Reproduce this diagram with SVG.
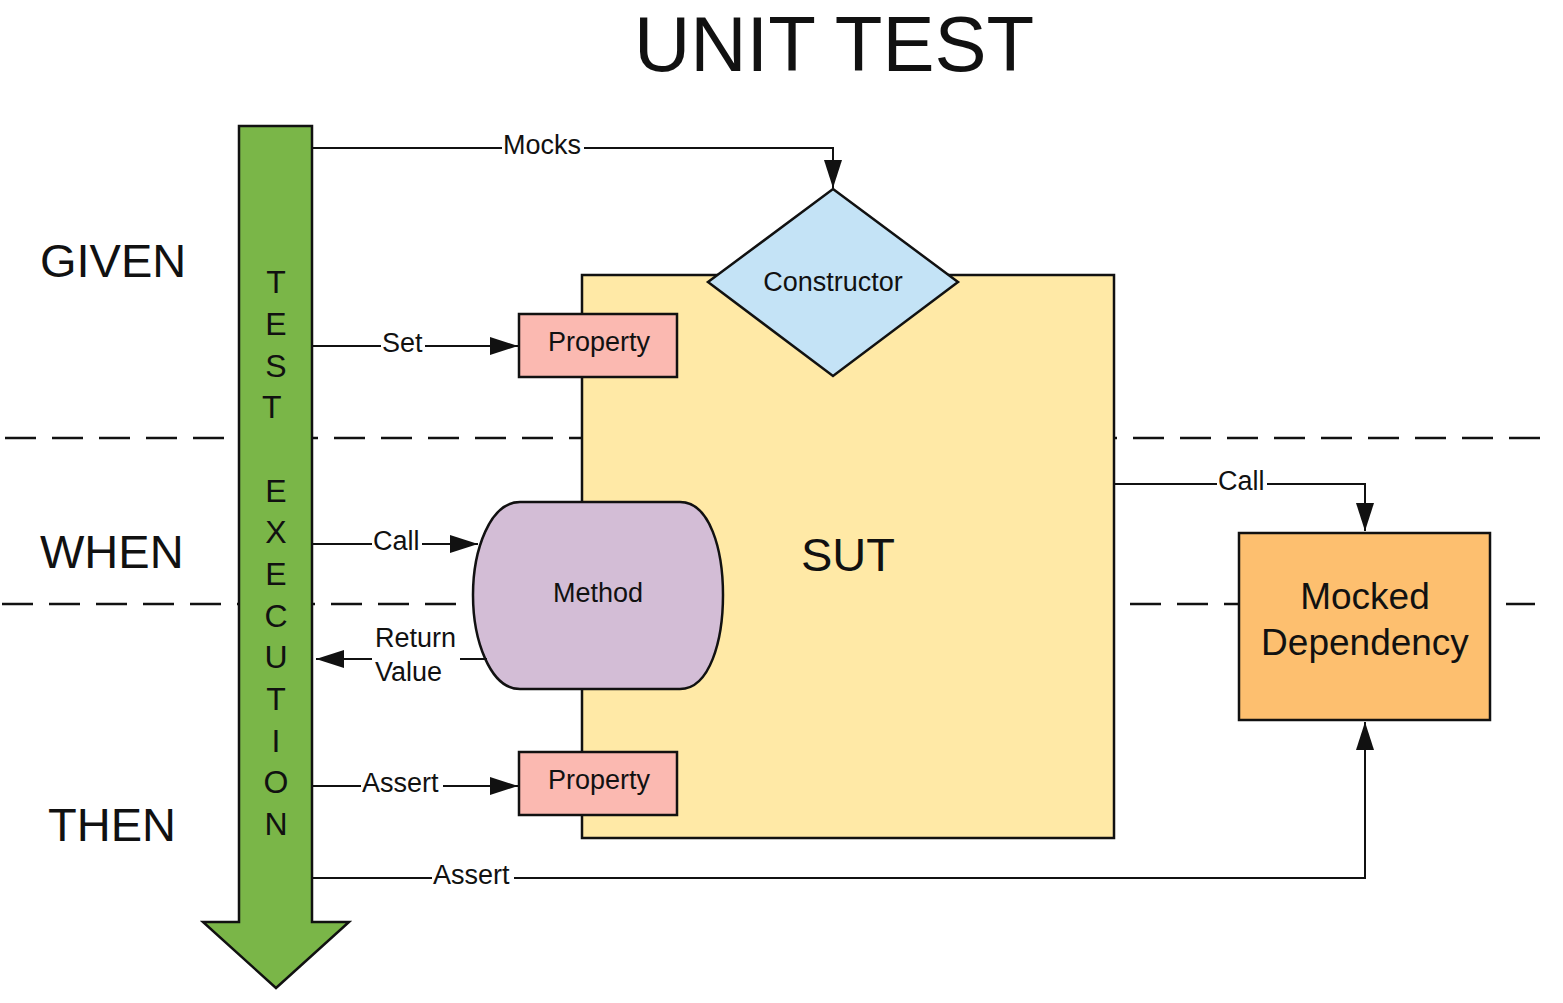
<svg xmlns="http://www.w3.org/2000/svg" width="1563" height="1003" viewBox="0 0 1563 1003">
<style>
text{font-family:"Liberation Sans",Arial,sans-serif;fill:#111}
.shape{stroke:#111;stroke-width:2.5}
.conn{fill:none;stroke:#111;stroke-width:2}
.dash{fill:none;stroke:#111;stroke-width:2.5;stroke-dasharray:31 16}
.lbl{font-size:27px}
.node{font-size:27px;text-anchor:middle}
.big{font-size:47px}
.bg{fill:#fff}
</style>
<defs>
<marker id="ah" viewBox="0 0 28 18" refX="28" refY="9" markerWidth="28" markerHeight="18" markerUnits="userSpaceOnUse" orient="auto">
<path d="M0 0 L28 9 L0 18 Z" fill="#111"/>
</marker>
</defs>
<rect width="1563" height="1003" fill="#fff"/>
<g id="title"><text x="834" y="71" font-size="78" text-anchor="middle">UNIT TEST</text></g>
<g id="phases">
<path class="dash" d="M5 438 H1540"/>
<path class="dash" d="M2 604 H1535"/>
<text class="big" x="40" y="277">GIVEN</text>
<text class="big" x="40" y="568">WHEN</text>
<text class="big" x="48" y="841">THEN</text>
</g>
<g id="test-execution">
<polygon class="shape" fill="#7AB648" stroke-width="3" points="239,126 312,126 312,922 349,922 276,988 203,922 239,922"/>
<text font-size="32" text-anchor="middle">
<tspan x="276" y="293">T</tspan><tspan x="276" y="335">E</tspan><tspan x="276" y="377">S</tspan><tspan x="276" y="418">T</tspan>
<tspan x="276" y="502">E</tspan><tspan x="276" y="543">X</tspan><tspan x="276" y="585">E</tspan><tspan x="276" y="627">C</tspan><tspan x="276" y="668">U</tspan><tspan x="276" y="710">T</tspan><tspan x="276" y="752">I</tspan><tspan x="276" y="793">O</tspan><tspan x="276" y="835">N</tspan>
</text>
</g>
<g id="sut">
<rect class="shape" x="582" y="275" width="532" height="563" fill="#FFE9A6"/>
<text class="big" x="848" y="571" text-anchor="middle">SUT</text>
</g>
<g id="constructor">
<polygon class="shape" fill="#C4E3F6" points="833,189 958,282 833,376 708,282"/>
<text class="node" x="833" y="291">Constructor</text>
</g>
<g id="property-set">
<rect class="shape" x="519" y="314" width="158" height="63" fill="#FBB9B1"/>
<text class="node" x="599" y="351">Property</text>
</g>
<g id="property-assert">
<rect class="shape" x="519" y="752" width="158" height="63" fill="#FBB9B1"/>
<text class="node" x="599" y="789">Property</text>
</g>
<g id="method">
<path class="shape" fill="#D3BDD6" d="M520 502 L680 502 C710 502 723 550 723 595 C723 640 710 689 680 689 L520 689 C490 689 473 640 473 595 C473 550 490 502 520 502 Z"/>
<text class="node" x="598" y="602" fill="#2a1f2e">Method</text>
</g>
<g id="mocked-dependency">
<rect class="shape" x="1239" y="533" width="251" height="187" fill="#FDBF6F"/>
<text x="1365" y="609" font-size="37" text-anchor="middle">Mocked</text>
<text x="1365" y="655" font-size="37" text-anchor="middle">Dependency</text>
</g>
<g id="connectors">
<path class="conn" d="M312 148 H833 V188" marker-end="url(#ah)"/>
<rect class="bg" x="502" y="132" width="82" height="28"/>
<text class="lbl" x="503" y="154">Mocks</text>
<path class="conn" d="M312 346 H518" marker-end="url(#ah)"/>
<rect class="bg" x="381" y="330" width="44" height="28"/>
<text class="lbl" x="382" y="352">Set</text>
<path class="conn" d="M312 544 H478" marker-end="url(#ah)"/>
<rect class="bg" x="372" y="528" width="50" height="28"/>
<text class="lbl" x="373" y="550">Call</text>
<path class="conn" d="M487 659 H316" marker-end="url(#ah)"/>
<rect class="bg" x="372" y="620" width="88" height="72"/>
<text class="lbl" x="375" y="647">Return</text>
<text class="lbl" x="375" y="681">Value</text>
<path class="conn" d="M312 786 H518" marker-end="url(#ah)"/>
<rect class="bg" x="361" y="770" width="82" height="28"/>
<text class="lbl" x="362" y="792">Assert</text>
<path class="conn" d="M312 878 H1365 V722" marker-end="url(#ah)"/>
<rect class="bg" x="432" y="862" width="82" height="28"/>
<text class="lbl" x="433" y="884">Assert</text>
<path class="conn" d="M1114 484 H1365 V531" marker-end="url(#ah)"/>
<rect class="bg" x="1217" y="468" width="50" height="28"/>
<text class="lbl" x="1218" y="490">Call</text>
</g>
</svg>
